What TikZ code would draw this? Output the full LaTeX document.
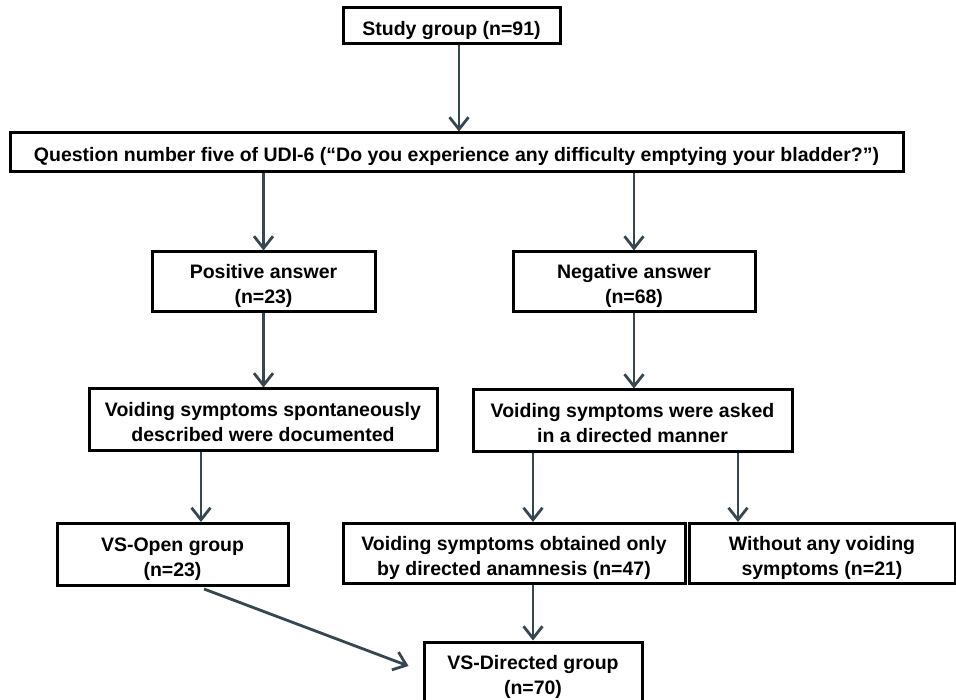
\documentclass[tikz,border=0pt]{standalone}
\usepackage{fontspec}
\setmainfont{Liberation Sans}
\usetikzlibrary{arrows.meta}
\definecolor{arrowc}{RGB}{55,71,79}
\newcommand{\bxtext}[1]{\raisebox{-4.5pt}[\height][\depth]{\begin{tabular}{@{}c@{}}#1\end{tabular}}}
\tikzset{
  box/.style={draw=black, line width=3pt, fill=white, inner sep=0pt,
    font=\bfseries\fontsize{19.5}{25}\selectfont},
  arr/.style={draw=arrowc, line width=2.8pt,
    -{Straight Barb[length=12pt,width=19pt,line width=2.8pt]}}
}
\begin{document}
\begin{tikzpicture}[x=1pt,y=-1pt]
\useasboundingbox (0,0) rectangle (956,700);
\node[box, minimum width=217pt, minimum height=36pt] (study) at (451.5,26) {\bxtext{Study group (n=91)}};
\node[box, minimum width=893pt, minimum height=39pt] (quest) at (456.5,152.5) {\bxtext{Question number five of UDI-6 (“Do you experience any difficulty emptying your bladder?”)}};
\node[box, minimum width=223pt, minimum height=60pt] (pos) at (263.5,282) {\bxtext{Positive answer\\(n=23)}};
\node[box, minimum width=242pt, minimum height=60pt] (neg) at (634,282) {\bxtext{Negative answer\\(n=68)}};
\node[box, minimum width=348pt, minimum height=61pt] (spont) at (263,419.5) {\bxtext{Voiding symptoms spontaneously\\described were documented}};
\node[box, minimum width=319pt, minimum height=61pt] (asked) at (632.5,420.5) {\bxtext{Voiding symptoms were asked\\in a directed manner}};
\node[box, minimum width=231pt, minimum height=62pt] (open) at (172.5,554.5) {\bxtext{VS-Open group\\(n=23)}};
\node[box, minimum width=342pt, minimum height=60pt] (only) at (514,553.5) {\bxtext{Voiding symptoms obtained only\\by directed anamnesis (n=47)}};
\node[box, minimum width=266pt, minimum height=60pt] (without) at (822,553.5) {\bxtext{Without any voiding\\symptoms (n=21)}};
\node[box, minimum width=218pt, minimum height=60pt] (directed) at (533,672) {\bxtext{VS-Directed group\\(n=70)}};
\coordinate (c1) at (201,0);
\coordinate (c2) at (533,0);
\coordinate (c3) at (738,0);
\draw[arr] ([xshift=7.5pt]study.south) -- ([xshift=7.5pt]study.south |- quest.north);
\draw[arr] (pos.north |- quest.south) -- (pos.north);
\draw[arr] (neg.north |- quest.south) -- (neg.north);
\draw[arr] (pos.south) -- (pos.south |- spont.north);
\draw[arr] (neg.south) -- (neg.south |- asked.north);
\draw[arr] (spont.south -| c1) -- (open.north -| c1);
\draw[arr] (asked.south -| c2) -- (only.north -| c2);
\draw[arr] (asked.south -| c3) -- (without.north -| c3);
\draw[arr] (only.south -| directed.north) -- (directed.north);
\draw[arr] ([xshift=31.5pt,yshift=-2pt]open.south) -- ([xshift=-14pt,yshift=6pt]directed.west);
\end{tikzpicture}
\end{document}
